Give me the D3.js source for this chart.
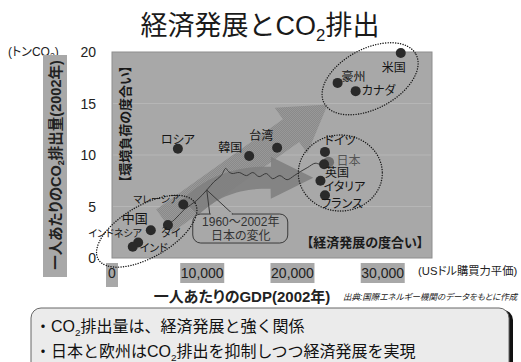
<!DOCTYPE html>
<html><head><meta charset="utf-8">
<script src="https://cdn.jsdelivr.net/npm/d3@7"></script>
<style>
html,body{margin:0;padding:0;background:#fff;}
svg{display:block;font-family:"Liberation Sans","Noto Sans CJK JP",sans-serif;font-feature-settings:"palt" 1;}
.full{font-feature-settings:normal;}
</style></head><body>
<svg id="c" width="521" height="362"></svg>
<script>
// ---------- data ----------
const countries   = ["米国","豪州","カナダ","ドイツ","日本","英国","イタリア","フランス","ロシア","韓国","台湾","マレーシア","タイ","中国","インドネシア","インド"];
const gdpPerCap   = [32000,25000,27000,23600,24000,23500,23100,23600,7300,15200,18300,7900,6200,4300,2900,2300]; // USD PPP, 2002
const co2PerCap   = [19.9,17.0,16.2,10.3,9.3,9.1,7.5,6.1,10.6,9.9,10.7,5.2,3.2,2.7,1.5,1.1];      // t-CO2, 2002
const japanPathGdp = [5600,6900,8000,9400,10500,11300,12100,12600,12900,13300,14100,14900,15600,16300,17100,17800,18600,19400,20200,20900,21700,22500,23100,23800];
const japanPathCo2 = [2.9,3.7,4.7,5.6,6.6,7.4,8.0,8.7,8.4,8.2,8.3,8.0,8.3,7.9,8.2,7.7,8.0,7.6,8.0,8.4,8.8,9.2,9.1,9.3];
const yTicks = [0,5,10,15,20];
const xTicks = [0,10000,20000,30000];
const xTickLabels = ["0","10,000","20,000","30,000"];
// annotation anchors in data units
const groupNames   = ["先進(高排出)","欧州・日本","アジア"];
const groupCenterX = [28600,25300,3850];
const groupCenterY = [17.4,8.25,2.6];
const upperArrowX = [5800,23900];
const upperArrowY = [3.6,14.9];
const lowerArrowX = [8700,12000,17600,22300];
const lowerArrowY = [4.9,7.9,7.8,7.8];
const calloutAnchor = [10500,6.6];

// ---------- layout (pixels / styles) ----------
const labelLayout = {
  "米国":[-7,15,12],"豪州":[16,-6,12],"カナダ":[23,0,12],"ドイツ":[15,-11,12],
  "日本":[20,-2,12],"英国":[13,8,12],"イタリア":[24,6,12],"フランス":[17,9,12],
  "ロシア":[0,-9,12],"韓国":[-19,-8,12],"台湾":[-16,-12,12],"マレーシア":[-27,-5,10],
  "タイ":[3,8,11],"中国":[-16,-12,13],"インドネシア":[-23,-9,10],"インド":[21,1,11]
};
const ellipseLayout = [[52,30,-28],[42,38,0],[56,26,-30]];

const svg = d3.select("#c");
const x = d3.scaleLinear().domain([0,35460]).range([112,432]);
const y = d3.scaleLinear().domain([0,20]).range([258,52]);

function rich(t, str, fs, sub){
  const k = sub || 0.62;
  const parts = str.split("₂");
  parts.forEach((p,i)=>{
    if(i>0){
      t.append("tspan").attr("font-size",fs*k).attr("dy",fs*0.22).text("2");
      t.append("tspan").attr("font-size",fs).attr("dy",-fs*0.22).text(p);
    } else t.append("tspan").text(p);
  });
  return t;
}

// title
rich(svg.append("text").attr("class","full").attr("x",260).attr("y",35).attr("text-anchor","middle")
  .attr("font-size",27).attr("fill","#1a1a1a"),"経済発展とCO₂排出",27);

// patterns
const defs = svg.append("defs");
const pat = defs.append("pattern").attr("id","dith").attr("width",2).attr("height",2).attr("patternUnits","userSpaceOnUse");
pat.append("rect").attr("width",2).attr("height",2).attr("fill","#8a8a8a");
pat.append("rect").attr("width",1).attr("height",1).attr("fill","#989898");
pat.append("rect").attr("x",1).attr("y",1).attr("width",1).attr("height",1).attr("fill","#989898");

// plot background
svg.append("rect").attr("x",x(0)).attr("y",y(20)).attr("width",x.range()[1]-x(0)).attr("height",y(0)-y(20))
  .attr("fill","#a8a8a8").attr("stroke","#8e8e8e").attr("stroke-width",1);

// gridlines
svg.selectAll(".grid").data(yTicks.filter(d=>d>0&&d<20)).join("line")
  .attr("x1",x(0)+1).attr("x2",x.range()[1]-1).attr("y1",d=>y(d)).attr("y2",d=>y(d))
  .attr("stroke","#b6b6b6").attr("stroke-width",1);

// y tick labels
svg.selectAll(".yt").data(yTicks).join("text")
  .attr("x",96).attr("y",d=>y(d)).attr("dy","0.36em").attr("text-anchor","end")
  .attr("font-size",14).attr("fill","#222").text(d=>d);

// x tick label boxes + labels
const xl = svg.selectAll(".xt").data(xTicks).join("g");
xl.append("rect")
  .attr("x",(d,i)=>i===0? x(d)-6 : x(d)-22).attr("y",263)
  .attr("width",(d,i)=>i===0?12:44).attr("height",(d,i)=>i===0?24:20)
  .attr("fill","#a8a8a8");
xl.append("text").attr("x",d=>x(d)).attr("y",278).attr("text-anchor","middle")
  .attr("font-size",14).attr("fill","#222").text((d,i)=>xTickLabels[i]);

// unit labels
rich(svg.append("text").attr("x",8).attr("y",56).attr("font-size",12).attr("fill","#222"),"(トンCO₂)",12,0.72);
svg.append("text").attr("x",418).attr("y",275).attr("font-size",11.3).attr("fill","#222").text("(USドル購買力平価)");

// y title box
svg.append("rect").attr("x",43).attr("y",55).attr("width",24).attr("height",222).attr("fill","#a8a8a8");
rich(svg.append("text").attr("transform","translate(61,165) rotate(-90)").attr("text-anchor","middle")
  .attr("font-size",14.5).attr("font-weight","bold").attr("fill","#222"),"一人あたりのCO₂排出量(2002年)",14.5);

// x title
svg.append("text").attr("x",242).attr("y",302).attr("text-anchor","middle").attr("font-size",15)
  .attr("font-weight","bold").attr("fill","#222").text("一人あたりのGDP(2002年)");
svg.append("text").attr("x",343).attr("y",300).attr("font-size",8.5).attr("font-style","italic")
  .attr("fill","#222").text("出典:国際エネルギー機関のデータをもとに作成");

// arrows
function straightArrow(p0,p1,sw,hw,hl){
  const dx=p1[0]-p0[0], dy=p1[1]-p0[1], L=Math.hypot(dx,dy);
  const ux=dx/L, uy=dy/L, nx=-uy, ny=ux;
  const b=[p1[0]-ux*hl,p1[1]-uy*hl];
  return [[p0[0]+nx*sw,p0[1]+ny*sw],[b[0]+nx*sw,b[1]+ny*sw],[b[0]+nx*hw,b[1]+ny*hw],p1,
          [b[0]-nx*hw,b[1]-ny*hw],[b[0]-nx*sw,b[1]-ny*sw],[p0[0]-nx*sw,p0[1]-ny*sw]];
}
function curvedArrow(p0,c,b,tip,sw,hw){
  const left=[],right=[];
  for(let i=0;i<=20;i++){
    const t=i/20;
    const px=(1-t)*(1-t)*p0[0]+2*(1-t)*t*c[0]+t*t*b[0];
    const py=(1-t)*(1-t)*p0[1]+2*(1-t)*t*c[1]+t*t*b[1];
    let tx=2*(1-t)*(c[0]-p0[0])+2*t*(b[0]-c[0]);
    let ty=2*(1-t)*(c[1]-p0[1])+2*t*(b[1]-c[1]);
    const L=Math.hypot(tx,ty); tx/=L; ty/=L;
    left.push([px+ty*sw,py-tx*sw]); right.push([px-ty*sw,py+tx*sw]);
  }
  const dx=tip[0]-b[0], dy=tip[1]-b[1], L=Math.hypot(dx,dy), ux=dx/L, uy=dy/L;
  return left.concat([[b[0]+uy*hw,b[1]-ux*hw],tip,[b[0]-uy*hw,b[1]+ux*hw]]).concat(right.reverse());
}
const ua = upperArrowX.map((v,i)=>[x(v),y(upperArrowY[i])]);
svg.append("polygon").attr("points",straightArrow(ua[0],ua[1],14,28,45).join(" "))
  .attr("fill","url(#dith)");
const la = lowerArrowX.map((v,i)=>[x(v),y(lowerArrowY[i])]);
svg.append("polygon").attr("points",curvedArrow(la[0],la[1],la[2],la[3],11,21).join(" "))
  .attr("fill","#7f7f7f").attr("opacity",0.9);

// ellipses
svg.selectAll(".el").data(groupNames).join("ellipse")
  .attr("transform",(d,i)=>`translate(${x(groupCenterX[i])},${y(groupCenterY[i])}) rotate(${ellipseLayout[i][2]})`)
  .attr("rx",(d,i)=>ellipseLayout[i][0]).attr("ry",(d,i)=>ellipseLayout[i][1])
  .attr("fill","none").attr("stroke","#1a1a1a").attr("stroke-width",1.4)
  .attr("stroke-dasharray","0.1,2.4").attr("stroke-linecap","round");

// Japan path
const jp = japanPathGdp.map((v,i)=>[v,japanPathCo2[i]]);
svg.append("path").attr("d",d3.line().x(d=>x(d[0])).y(d=>y(d[1])).curve(d3.curveCatmullRom)(jp))
  .attr("fill","none").attr("stroke","#3a3a3a").attr("stroke-width",1);

// callout
const ca=[x(calloutAnchor[0]),y(calloutAnchor[1])];
svg.append("path").attr("d",`M${ca[0]+3},${ca[1]+24} L${ca[0]},${ca[1]} L${ca[0]+26},${ca[1]+24}`)
  .attr("fill","none").attr("stroke","#3a3a3a").attr("stroke-width",1);
svg.append("rect").attr("x",ca[0]-14).attr("y",ca[1]+24).attr("width",95).attr("height",29).attr("rx",8)
  .attr("fill","none").attr("stroke","#3a3a3a").attr("stroke-width",1);
svg.append("rect").attr("x",ca[0]+4).attr("y",ca[1]+22).attr("width",21).attr("height",3).attr("fill","#a8a8a8");
svg.append("text").attr("x",ca[0]+34).attr("y",ca[1]+36).attr("text-anchor","middle").attr("font-size",12)
  .attr("fill","#333").text("1960〜2002年");
svg.append("text").attr("x",ca[0]+34).attr("y",ca[1]+50).attr("text-anchor","middle").attr("font-size",12)
  .attr("fill","#333").text("日本の変化");

// dots
svg.selectAll(".dot").data(countries).join("circle")
  .attr("cx",(d,i)=>x(gdpPerCap[i])).attr("cy",(d,i)=>y(co2PerCap[i]))
  .attr("r",(d)=>d==="日本"?5.5:5)
  .attr("fill",d=>d==="日本"?"#6e6e6e":"#2a2a2a");
// country labels
svg.selectAll(".lab").data(countries).join("text")
  .attr("x",(d,i)=>x(gdpPerCap[i])+labelLayout[d][0]).attr("y",(d,i)=>y(co2PerCap[i])+labelLayout[d][1])
  .attr("dy","0.36em").attr("text-anchor","middle").attr("font-size",d=>labelLayout[d][2])
  .attr("fill",d=>d==="日本"?"#555":"#151515").text(d=>d);

// axis meaning labels
svg.append("text").attr("transform","translate(130,124) rotate(-90)").attr("text-anchor","middle")
  .attr("font-size",13).attr("font-weight","bold").attr("fill","#1a1a1a").text("【環境負荷の度合い】");
svg.append("text").attr("x",365).attr("y",247).attr("text-anchor","middle")
  .attr("font-size",13).attr("font-weight","bold").attr("fill","#1a1a1a").text("【経済発展の度合い】");

// bottom message box
svg.append("rect").attr("x",34).attr("y",310).attr("width",479).attr("height",70).attr("rx",10).attr("fill","#111");
svg.append("rect").attr("x",31).attr("y",308).attr("width",478).attr("height",70).attr("rx",10)
  .attr("fill","#ebebeb").attr("stroke","#666").attr("stroke-width",1);
rich(svg.append("text").attr("class","full").attr("x",35).attr("y",332).attr("font-size",16).attr("fill","#111"),"・CO₂排出量は、経済発展と強く関係",16);
rich(svg.append("text").attr("class","full").attr("x",35).attr("y",357).attr("font-size",16).attr("fill","#111"),"・日本と欧州はCO₂排出を抑制しつつ経済発展を実現",16);
</script>
</body></html>
